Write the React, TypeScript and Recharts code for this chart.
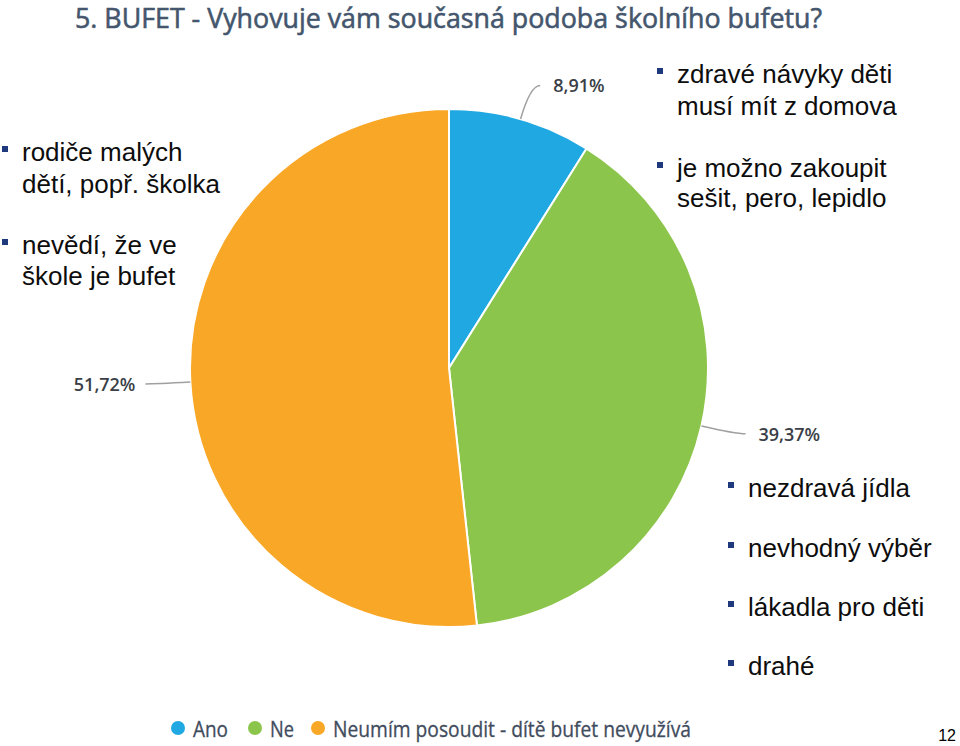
import React from 'react';
import { PieChart, Pie, Cell, Legend } from 'recharts';

// ---- data ----
const categories = ['Ano', 'Ne', 'Neumím posoudit - dítě bufet nevyužívá'];
const shares = [8.91, 39.37, 51.72];
const sliceColors = ['#1fa8e1', '#8cc54b', '#f9a727'];
const title = '5. BUFET - Vyhovuje vám současná podoba školního bufetu?';
const leftNotes = [
  ['rodiče malých', 'dětí, popř. školka'],
  ['nevědí, že ve', 'škole je bufet'],
];
const topRightNotes = [
  ['zdravé návyky děti', 'musí mít z domova'],
  ['je možno zakoupit', 'sešit, pero, lepidlo'],
];
const bottomRightNotes = ['nezdravá jídla', 'nevhodný výběr', 'lákadla pro děti', 'drahé'];
const pageNumber = '12';

const data = categories.map((name, i) => ({ name, value: shares[i] }));

// ---- layout (styles, not data) ----
const W = 960;
const H = 746;
const PIE_CX = 449;
const PIE_CY = 368;
const PIE_R = 259;
const legendCircleX = [178, 255, 318];
const legendTextWidth = [35, 24, 358];
const LEGEND_TOP = 706;
const LEGEND_CY = 728;

const noteBlocks = [
  { x: 22, lines: leftNotes[0], baselines: [161, 193] },
  { x: 22, lines: leftNotes[1], baselines: [254, 285] },
  { x: 677, lines: topRightNotes[0], baselines: [83, 115] },
  { x: 677, lines: topRightNotes[1], baselines: [177, 207] },
  { x: 748, lines: [bottomRightNotes[0]], baselines: [497] },
  { x: 748, lines: [bottomRightNotes[1]], baselines: [557] },
  { x: 748, lines: [bottomRightNotes[2]], baselines: [616] },
  { x: 748, lines: [bottomRightNotes[3]], baselines: [675] },
];

const fmtPct = (v: number) => v.toFixed(2).replace('.', ',') + '%';

const renderLabel = (props: any) => {
  const { cx, cy, midAngle, outerRadius, index, value } = props;
  const RAD = Math.PI / 180;
  const cos = Math.cos(-midAngle * RAD);
  const sin = Math.sin(-midAngle * RAD);
  const px = cx + outerRadius * cos;
  const py = cy + outerRadius * sin;
  const qx = cx + (outerRadius + 35) * cos;
  const qy = cy + (outerRadius + 35) * sin;
  const right = cos >= 0;
  const ex = qx + (right ? 10 : -10);
  const ey = qy;
  const tx = ex + (right ? 13 : -10);
  return (
    <g key={`lbl-${index}`}>
      <path
        d={`M${px},${py} Q${qx},${qy} ${ex},${ey}`}
        fill="none"
        stroke="#a0a0a0"
        strokeWidth={1.5}
      />
      <text
        x={tx}
        y={ey + 7}
        textAnchor={right ? 'start' : 'end'}
        fontFamily="'Open Sans', sans-serif"
        fontWeight={600}
        fontSize={18}
        fill="#3a3f47"
      >
        {fmtPct(value)}
      </text>
    </g>
  );
};

const renderLegend = (props: any) => {
  const payload = props.payload || [];
  return (
    <svg width={W} height={40} style={{ display: 'block' }}>
      {categories.map((name, i) => {
        const item = payload[i];
        const color = sliceColors[i] || (item && item.color);
        const cxp = legendCircleX[i];
        return (
          <g key={name}>
            <circle cx={cxp} cy={LEGEND_CY - LEGEND_TOP} r={7} fill={color} />
            <text
              x={cxp + 15}
              y={LEGEND_CY - LEGEND_TOP + 9}
              textLength={legendTextWidth[i]}
              lengthAdjust="spacingAndGlyphs"
              fontFamily="'Open Sans', sans-serif"
              fontWeight={500}
              fontSize={21}
              fill="#3f4c5d"
              stroke="#3f4c5d"
              strokeWidth={0.3}
            >
              {name}
            </text>
          </g>
        );
      })}
    </svg>
  );
};

export default function App() {
  return (
    <div
      style={{
        position: 'absolute',
        left: 0,
        top: 0,
        width: W,
        height: H,
        background: '#ffffff',
        overflow: 'hidden',
      }}
    >
      <PieChart width={W} height={H} margin={{ top: 0, right: 0, bottom: 0, left: 0 }}>
        <Pie
          data={data}
          dataKey="value"
          nameKey="name"
          cx={PIE_CX}
          cy={PIE_CY}
          outerRadius={PIE_R}
          innerRadius={0}
          startAngle={90}
          endAngle={-270}
          stroke="#ffffff"
          strokeWidth={2}
          isAnimationActive={false}
          label={renderLabel}
          labelLine={false}
        >
          {data.map((d, i) => (
            <Cell key={d.name} fill={sliceColors[i]} />
          ))}
        </Pie>
        <Legend
          content={renderLegend}
          wrapperStyle={{ position: 'absolute', left: 0, top: LEGEND_TOP, width: W, height: 40 }}
        />
      </PieChart>
      <svg
        width={W}
        height={H}
        style={{ position: 'absolute', left: 0, top: 0, pointerEvents: 'none' }}
      >
        <text
          x={75}
          y={28}
          textLength={747}
          lengthAdjust="spacingAndGlyphs"
          fontFamily="'Open Sans', sans-serif"
          fontWeight={400}
          fontSize={28}
          fill="#44566d"
          stroke="#44566d"
          strokeWidth={0.6}
        >
          {title}
        </text>
        {noteBlocks.map((b, bi) => (
          <g key={bi}>
            <rect x={b.x - 20} y={b.baselines[0] - 15} width={6} height={6} fill="#1f3a7c" />
            {b.lines.map((line, li) => (
              <text
                key={li}
                x={b.x}
                y={b.baselines[li]}
                fontFamily="'Liberation Sans', Arial, sans-serif"
                fontSize={26}
                fill="#0d0d0d"
              >
                {line}
              </text>
            ))}
          </g>
        ))}
        <text
          x={956}
          y={741}
          textAnchor="end"
          fontFamily="'Liberation Sans', Arial, sans-serif"
          fontSize={16}
          fill="#000"
        >
          {pageNumber}
        </text>
      </svg>
    </div>
  );
}
